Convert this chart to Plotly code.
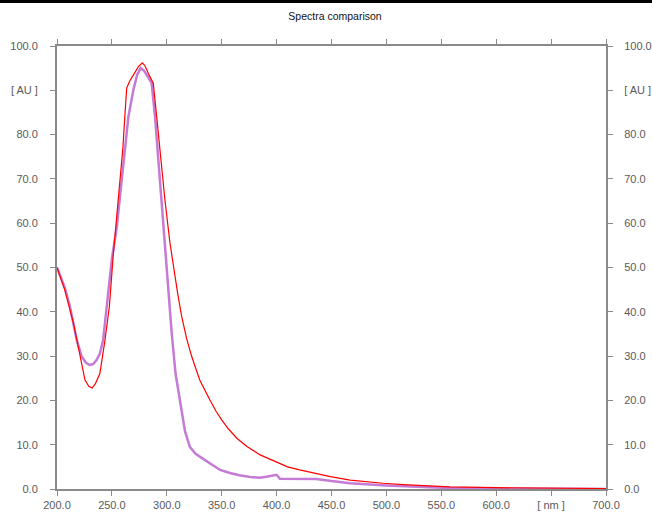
import plotly.graph_objects as go

# ---- data ----
red_nm = [200, 207, 215, 221, 225.5, 229, 232, 235, 239, 243.7, 247.7, 251.3, 254, 257.4, 260, 262,
          263.5, 266, 270, 274, 277.7, 280, 283.2, 287.7, 290.8, 293.8, 296.8, 298.4, 302.9, 306,
          310, 313.6, 318, 322.7, 330, 339, 345, 350, 356, 364, 373, 385, 400, 410, 421, 435, 449,
          467, 480, 497, 515, 530, 558, 600, 650, 700]
red_au = [50, 45, 37.4, 29.9, 24.6, 23.2, 22.8, 23.8, 26, 33.6, 41.2, 53, 60, 69, 77, 85,
          90.5, 92, 93.5, 95.3, 96.2, 95.6, 93.8, 91.6, 84, 76, 69, 65, 55.5, 50.2,
          44, 38.9, 34, 29.9, 24.6, 20.2, 17.5, 15.6, 13.6, 11.4, 9.6, 7.7, 6.0, 5.0, 4.3, 3.5, 2.8,
          2.0, 1.65, 1.3, 1.0, 0.8, 0.5, 0.3, 0.15, 0.1]

pur_nm = [200, 207, 211.8, 218, 222.5, 226, 229.5, 233, 236, 239, 242, 246.7, 250, 254.4, 260.4,
          265, 269.5, 273, 276.2, 279, 283, 286.2, 289.3, 293.8, 295.3, 298.4, 299.9, 304.5, 308,
          312, 316.6, 321, 326, 330, 340, 348.5, 357.6, 366, 376, 385, 392, 397, 400, 403, 420,
          436, 450, 467, 500, 530, 558, 600, 650, 700]
pur_au = [50, 45.5, 41.2, 33.6, 29.9, 28.6, 28, 28.2, 29.1, 30.5, 33.6, 44.9, 52, 59, 72.8,
          84, 90, 93.5, 95, 94.5, 93, 91.6, 84, 69, 65.2, 55.5, 50.2, 35.1, 26,
          20.1, 13, 9.5, 8, 7.3, 5.6, 4.3, 3.6, 3.1, 2.7, 2.55, 2.8, 3.0, 3.2, 2.3, 2.3,
          2.25, 1.8, 1.3, 0.8, 0.5, 0.2, 0.1, 0.05, 0]

x_tickvals = [200, 250, 300, 350, 400, 450, 500, 550, 600, 650, 700]
x_ticktext = ["200.0", "250.0", "300.0", "350.0", "400.0", "450.0", "500.0", "550.0", "600.0", "[ nm ]", "700.0"]
y_tickvals = [0, 10, 20, 30, 40, 50, 60, 70, 80, 90, 100]
y_ticktext = ["0.0", "10.0", "20.0", "30.0", "40.0", "50.0", "60.0", "70.0", "80.0", "[ AU ]", "100.0"]

title_text = "Spectra comparison"

AXIS = "#8a8a8a"
TXT = "#5a5a5a"
FONT = "Liberation Sans, Arial, sans-serif"

fig = go.Figure()
fig.add_trace(go.Scatter(x=pur_nm, y=pur_au, mode="lines",
                         line=dict(color="#c57ad6", width=2.5), showlegend=False, hoverinfo="skip"))
fig.add_trace(go.Scatter(x=red_nm, y=red_au, mode="lines",
                         line=dict(color="#ff0000", width=1.2), showlegend=False, hoverinfo="skip"))
# invisible trace to activate the right-hand axis
fig.add_trace(go.Scatter(x=[200], y=[0], yaxis="y2", mode="markers",
                         marker=dict(opacity=0), showlegend=False, hoverinfo="skip"))

common = dict(showgrid=False, zeroline=False, showline=True, linecolor=AXIS, linewidth=2,
              ticks="outside", ticklen=5, tickwidth=1, tickcolor=AXIS, automargin=False,
              tickfont=dict(family=FONT, size=11, color=TXT))

fig.update_layout(
    width=652, height=512,
    margin=dict(l=57, r=46, t=46, b=23),
    paper_bgcolor="white", plot_bgcolor="white",
    title=dict(text=title_text, x=335 / 652, xanchor="center", y=1 - 16 / 512, yanchor="middle",
               font=dict(family=FONT, size=10.5, color="#111111")),
    xaxis=dict(range=[200, 700], tickvals=x_tickvals, ticktext=x_ticktext, mirror="ticks",
               ticklabelstandoff=0, **common),
    yaxis=dict(range=[0, 100], tickvals=y_tickvals, ticktext=y_ticktext,
               ticklabelstandoff=10, **common),
    yaxis2=dict(range=[0, 100], tickvals=y_tickvals, ticktext=y_ticktext, overlaying="y",
                side="right", ticklabelstandoff=9, **common),
    shapes=[dict(type="rect", xref="paper", yref="paper", x0=-0.2, x1=1.2,
                 y0=1 + 43 / 443, y1=1 + 52 / 443, fillcolor="black", line=dict(width=0),
                 layer="above")],
)

fig.write_html("out.html", config={"displayModeBar": False, "staticPlot": True},
               post_script="document.body.style.margin='0';document.body.style.overflow='hidden';")
